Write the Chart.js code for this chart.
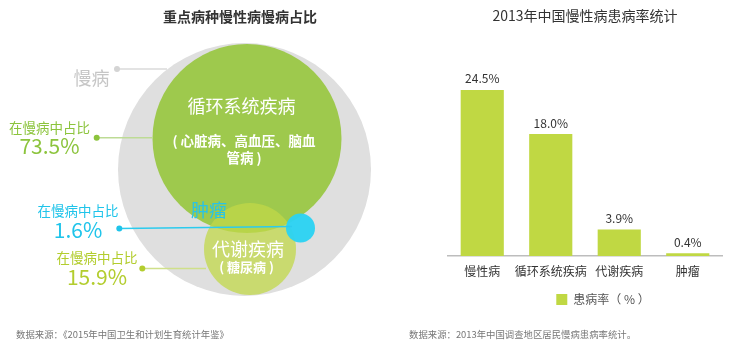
<!DOCTYPE html>
<html>
<head>
<meta charset="utf-8">
<script src="https://cdn.jsdelivr.net/npm/chart.js@4.4.0/dist/chart.umd.min.js"></script>
<style>
  html, body { margin: 0; padding: 0; background: #fff; }
  #wrap { position: relative; width: 744px; height: 343px; overflow: hidden; font-family: "Noto Sans CJK SC", sans-serif; }
  #left { position: absolute; left: 0; top: 0; }
  #right { position: absolute; left: 420px; top: 0; }
  .src { position: absolute; top: 327px; font-size: 9.4px; line-height: 14px; color: #777; white-space: nowrap; }
</style>
</head>
<body>
<div id="wrap">
  <canvas id="left" width="400" height="343"></canvas>
  <canvas id="right" width="324" height="343"></canvas>
  <div class="src" style="left:16px">数据来源：《2015年中国卫生和计划生育统计年鉴》</div>
  <div class="src" style="left:409px">数据来源：2013年中国调查地区居民慢病患病率统计。</div>
</div>
<script>
const FONT = '"Noto Sans CJK SC", "Noto Sans", sans-serif';

// left chart: key diseases, share within chronic disease (%)
const circleNames = ['慢病', '循环系统疾病', '肿瘤', '代谢疾病'];
const circleNotes = [[], ['( 心脏病、高血压、脑血', '管病 )'], [], ['( 糖尿病 )']];
const shareOfChronic = [null, 73.5, 1.6, 15.9];
const shareCaption = '在慢病中占比';

// right chart: 2013 prevalence (%)
const categories = ['慢性病', '循环系统疾病', '代谢疾病', '肿瘤'];
const prevalence = [24.5, 18.0, 3.9, 0.4];
const seriesName = '患病率（ % ）';

// diagram layout, in canvas pixels (x/y scales are set up 1:1 with the canvas)
const circleLayout = [
  { x: 244.5, y: 169.5, r: 126.5, fill: '#dfdfdf', order: 4 },
  { x: 247, y: 138.5, r: 94.5, fill: '#9ec94d', order: 3 },
  { x: 300.5, y: 228, r: 14.5, fill: 'rgba(44,210,242,0.96)', order: 1 },
  { x: 250, y: 249, r: 46, fill: 'rgba(193,216,72,0.74)', order: 2 }
];
const calloutLayout = [
  { text: '#c6c6c6', line: '#dadada', dot: [117, 69], end: [167, 69], label: [91.5, 78] },
  { text: '#8cc43d', line: '#bddb95', dot: [96.7, 137.7], end: [153, 137.7], label: [49.5, 127.5] },
  { text: '#1fc4ea', line: '#2ccbee', dot: [119.3, 228.5], end: [292, 226.5], label: [78, 211] },
  { text: '#b3cd2e', line: '#cfe08a', dot: [142.3, 268.5], end: [206, 268.5], label: [97, 258.3] }
];
const innerTextLayout = [
  null,
  { color: '#fff', main: [241.5, 106, 18], note: [244, 141, 13.5, 16.5] },
  { color: '#27c3e8', main: [209, 210, 18] },
  { color: '#fff', main: [248, 249, 18], note: [246.5, 267, 13, 16] }
];

const diagramText = {
  id: 'diagramText',
  afterDatasetsDraw(chart) {
    const ctx = chart.ctx;
    const px = v => chart.scales.x.getPixelForValue(v);
    const py = v => chart.scales.y.getPixelForValue(v);
    ctx.save();
    ctx.textAlign = 'center';
    ctx.textBaseline = 'middle';
    calloutLayout.forEach((c, i) => {
      ctx.strokeStyle = c.line;
      ctx.lineWidth = 1.5;
      ctx.beginPath();
      ctx.moveTo(px(c.dot[0]), py(c.dot[1]));
      ctx.lineTo(px(c.end[0]), py(c.end[1]));
      ctx.stroke();
      ctx.fillStyle = i === 0 ? '#d4d4d4' : c.text;
      ctx.beginPath();
      ctx.arc(px(c.dot[0]), py(c.dot[1]), 3, 0, Math.PI * 2);
      ctx.fill();
      ctx.fillStyle = c.text;
      if (shareOfChronic[i] == null) {
        ctx.font = '18px ' + FONT;
        ctx.fillText(circleNames[i], px(c.label[0]), py(c.label[1]));
      } else {
        ctx.font = '13.5px ' + FONT;
        ctx.fillText(shareCaption, px(c.label[0]), py(c.label[1]));
        ctx.font = '21px ' + FONT;
        ctx.fillText(shareOfChronic[i].toFixed(1) + '%', px(c.label[0]), py(c.label[1]) + 19);
      }
    });
    innerTextLayout.forEach((t, i) => {
      if (!t) return;
      ctx.fillStyle = t.color;
      ctx.font = t.main[2] + 'px ' + FONT;
      ctx.fillText(circleNames[i], px(t.main[0]), py(t.main[1]));
      if (t.note) {
        ctx.font = 'bold ' + t.note[2] + 'px ' + FONT;
        circleNotes[i].forEach((line, k) => {
          ctx.fillText(line, px(t.note[0]), py(t.note[1]) + k * t.note[3]);
        });
      }
    });
    ctx.restore();
  }
};

new Chart(document.getElementById('left'), {
  type: 'bubble',
  data: {
    datasets: circleNames.map((name, i) => ({
      label: name,
      data: [{ x: circleLayout[i].x, y: circleLayout[i].y, r: circleLayout[i].r }],
      backgroundColor: circleLayout[i].fill,
      hoverBackgroundColor: circleLayout[i].fill,
      borderWidth: 0,
      hoverBorderWidth: 0,
      hoverRadius: 0,
      order: circleLayout[i].order,
      clip: false
    }))
  },
  options: {
    responsive: false,
    animation: false,
    devicePixelRatio: 1,
    events: [],
    layout: { autoPadding: false, padding: { left: 80, right: 0, top: 0, bottom: 0 } },
    plugins: {
      legend: { display: false },
      tooltip: { enabled: false },
      title: {
        display: true,
        text: '重点病种慢性病慢病占比',
        color: '#333',
        font: { family: FONT, size: 14, weight: 'bold' },
        padding: { top: 8, bottom: 8 }
      }
    },
    scales: {
      x: { display: false, min: 80, max: 400 },
      y: { display: false, reverse: true, min: 32.8, max: 343 }
    }
  },
  plugins: [diagramText]
});

const barValues = {
  id: 'barValues',
  afterDatasetsDraw(chart) {
    const ctx = chart.ctx;
    ctx.save();
    ctx.fillStyle = '#333';
    ctx.font = '12px ' + FONT;
    ctx.textAlign = 'center';
    ctx.textBaseline = 'middle';
    chart.getDatasetMeta(0).data.forEach((bar, i) => {
      ctx.fillText(prevalence[i].toFixed(1) + '%', bar.x, bar.y - 11);
    });
    ctx.restore();
  }
};

// nudge the legend to the right, as in the original
const legendShift = {
  id: 'legendShift',
  afterLayout(chart) {
    chart.legend.left += 18;
    chart.legend.right += 18;
  }
};

new Chart(document.getElementById('right'), {
  type: 'bar',
  data: {
    labels: categories,
    datasets: [{
      label: seriesName,
      data: prevalence,
      backgroundColor: '#c0d843',
      borderWidth: 0,
      barPercentage: 0.63,
      categoryPercentage: 1
    }]
  },
  options: {
    responsive: false,
    animation: false,
    devicePixelRatio: 1,
    events: [],
    layout: { padding: { left: 28, right: 22, top: 0, bottom: 27.5 } },
    plugins: {
      tooltip: { enabled: false },
      title: {
        display: true,
        text: '2013年中国慢性病患病率统计',
        color: '#333',
        font: { family: FONT, size: 14, weight: 'normal' },
        padding: { top: 7.5, bottom: 28.3 }
      },
      legend: {
        position: 'bottom',
        labels: { boxWidth: 11, boxHeight: 11, padding: 10, color: '#555', font: { family: FONT, size: 12 } }
      }
    },
    scales: {
      x: {
        grid: { display: false, drawTicks: false },
        border: { display: true, color: '#bdbdbd', width: 1.5 },
        ticks: { color: '#333', padding: 8, maxRotation: 0, minRotation: 0, autoSkip: false, font: { family: FONT, size: 12 } },
        afterFit(scale) { scale.height = 27.5; }
      },
      y: { display: false, min: 0, max: 30 }
    }
  },
  plugins: [barValues, legendShift]
});
</script>
</body>
</html>
